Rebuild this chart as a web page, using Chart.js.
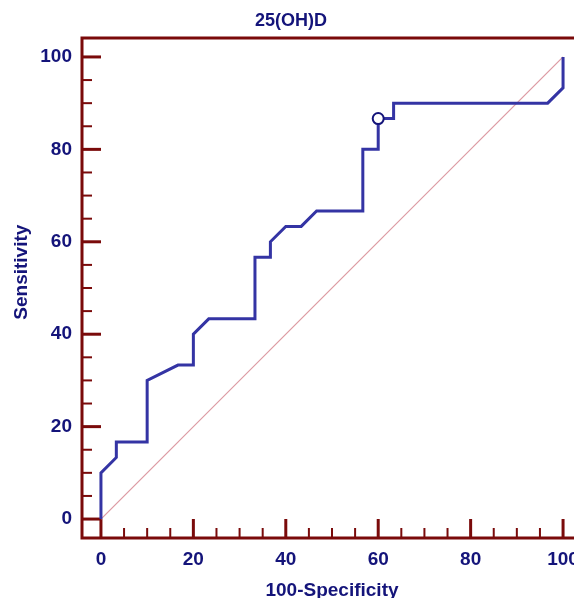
<!DOCTYPE html>
<html>
<head>
<meta charset="utf-8">
<script src="https://cdn.jsdelivr.net/npm/chart.js@4/dist/chart.umd.min.js"></script>
<style>
  html, body { margin: 0; padding: 0; overflow: hidden; background: #fff; }
  #wrap { width: 608px; height: 598px; }
</style>
</head>
<body>
<div id="wrap"><canvas id="roc" width="608" height="598"></canvas></div>
<script>
// ROC curve points (100-Specificity, Sensitivity)
const specX = [0, 0, 3.33, 3.33, 10, 10, 16.67, 20, 20, 23.33, 33.33, 33.33, 36.67, 36.67, 40, 43.33, 46.67, 56.67, 56.67, 60, 60, 63.33, 63.33, 96.67, 100, 100];
const sensY = [0, 10, 13.33, 16.67, 16.67, 30, 33.33, 33.33, 40, 43.33, 43.33, 56.67, 56.67, 60, 63.33, 63.33, 66.67, 66.67, 80, 80, 86.67, 86.67, 90, 90, 93.33, 100];
// reference diagonal
const diagX = [0, 100];
const diagY = [0, 100];
// optimal criterion marker
const cutX = [60];
const cutY = [86.67];

const majorTicks = [0, 20, 40, 60, 80, 100];
const minorTicks = [5, 10, 15, 25, 30, 35, 45, 50, 55, 65, 70, 75, 85, 90, 95];

const navy = '#14147a';
const lineBlue = '#3434a4';
const axisRed = '#7a0a0a';

const toPts = (xs, ys) => xs.map((v, i) => ({ x: v, y: ys[i] }));

// axes drawn as a frame with inward ticks
const framePlugin = {
    id: 'frame',
    beforeDatasetsDraw(chart) {
        const { ctx, chartArea: a, scales: { x, y } } = chart;
        ctx.save();
        ctx.strokeStyle = axisRed;
        ctx.lineWidth = 3;
        ctx.beginPath();
        ctx.moveTo(a.right + 10, a.top);
        ctx.lineTo(a.left, a.top);
        ctx.lineTo(a.left, a.bottom);
        ctx.lineTo(a.right + 10, a.bottom);
        ctx.stroke();

        const tick = (v, len, w) => {
            ctx.lineWidth = w;
            const py = y.getPixelForValue(v);
            ctx.beginPath();
            ctx.moveTo(a.left, py);
            ctx.lineTo(a.left + len, py);
            ctx.stroke();
            const px = x.getPixelForValue(v);
            ctx.beginPath();
            ctx.moveTo(px, a.bottom);
            ctx.lineTo(px, a.bottom - len);
            ctx.stroke();
        };
        minorTicks.forEach(v => tick(v, 10, 2));
        majorTicks.forEach(v => tick(v, 19, 3));
        ctx.restore();
    }
};

const tickFont = { family: 'Arial, "Liberation Sans", sans-serif', size: 19, weight: 'bold' };
const titleFont = { family: 'Arial, "Liberation Sans", sans-serif', size: 19, weight: 'bold', lineHeight: 1 };

function axis(title, sizeProp, size, pad) {
    return {
        type: 'linear',
        min: -4.1,
        max: 104.1,
        grid: { display: false, drawTicks: false },
        border: { display: false },
        afterBuildTicks: s => { s.ticks = majorTicks.map(v => ({ value: v })); },
        afterFit: s => { s[sizeProp] = size; },
        ticks: { color: navy, font: tickFont, padding: 10, autoSkip: false, maxRotation: 0 },
        title: { display: true, text: title, color: navy, font: titleFont, padding: pad }
    };
}

new Chart(document.getElementById('roc'), {
    type: 'scatter',
    data: {
        datasets: [
            {
                data: toPts(cutX, cutY),
                pointRadius: 5.5,
                pointBackgroundColor: '#ffffff',
                pointBorderColor: navy,
                pointBorderWidth: 2,
                showLine: false,
                order: 0
            },
            {
                data: toPts(specX, sensY),
                showLine: true,
                borderColor: lineBlue,
                borderWidth: 3,
                pointRadius: 0,
                tension: 0,
                order: 1
            },
            {
                data: toPts(diagX, diagY),
                showLine: true,
                borderColor: '#dc9aa2',
                borderWidth: 1.2,
                pointRadius: 0,
                order: 2
            }
        ]
    },
    options: {
        responsive: false,
        animation: false,
        layout: { padding: { right: 26, left: 0, top: 0, bottom: 0 } },
        scales: {
            x: axis('100-Specificity', 'height', 60, { top: 0, bottom: -2 }),
            y: axis('      Sensitivity', 'width', 82, { top: 12, bottom: 0 })
        },
        plugins: {
            legend: { display: false },
            tooltip: { enabled: false },
            title: {
                display: true,
                text: '25(OH)D',
                color: navy,
                font: { family: 'Arial, "Liberation Sans", sans-serif', size: 18, weight: 'bold' },
                padding: { top: 10, bottom: 6.4 }
            }
        }
    },
    plugins: [framePlugin]
});
</script>
</body>
</html>
